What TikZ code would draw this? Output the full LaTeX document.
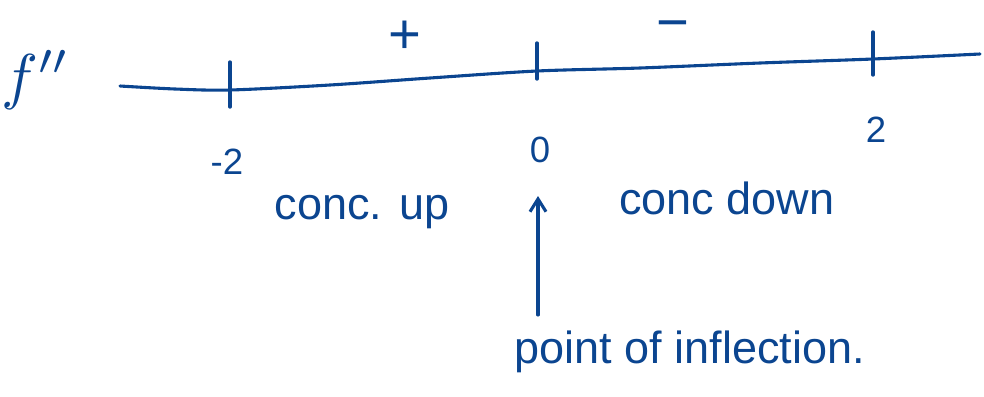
\documentclass[tikz,border=0pt]{standalone}
\usepackage{fontspec}
\setmainfont{Liberation Sans}
\usepackage{tikz}
\usepackage{xcolor}
\usetikzlibrary{arrows.meta,positioning}
\definecolor{ink}{HTML}{0B4590}
\tikzset{
  pen/.style={draw=ink, line width=2.2pt, line cap=round, line join=round},
  ticky/.style={draw=ink, line width=2.4pt, line cap=round},
  script/.style={text=ink, inner sep=0pt, font=\fontsize{32}{36}\selectfont},
  numlabel/.style={text=ink, inner sep=0pt, font=\fontsize{26}{30}\selectfont},
  signlabel/.style={text=ink, inner sep=0pt, text height=0.6em, text depth=0pt,
                    font=\fontsize{40}{44}\selectfont},
  arrow/.style={-{Straight Barb[length=3.2mm,width=4mm]}, draw=ink, line width=2.2pt, line cap=round}
}
\begin{document}
\begin{tikzpicture}[x=0.025cm,y=-0.025cm]
        \useasboundingbox (0,0) rectangle (984,396);
        % the number line for f''
        \node[text=ink, inner sep=0pt, scale=4.4] (fpp) at (36,80) {$f''$};
        \draw[pen] plot[smooth] coordinates {(120,86) (175,89) (230,90) (330,85) (430,78) (537,71) (640,68) (760,63) (873,59) (980,54)};
        \draw[ticky] (230,62) -- (230,107);
        \draw[ticky] (537,43) -- (537,79);
        \draw[ticky] (873,32) -- (873,75);
        % signs
        \node[signlabel] (plus) at (405,49) {+};
        \node[signlabel] (minus) at (673,37) {−};
        % values
        \node[numlabel] (mtwo) at (227,162) {-2};
        \node[numlabel] (zero) at (540,150) {0};
        \node[numlabel] (two) at (876,130) {2};
        % concavity
        \node[script] (up) at (362,212) {conc. up};
        \node[script] (down) at (727,198) {conc down};
        \node[script] (poi) at (690,352) {point of inflection.};
        \coordinate (tail) at (538,315);
        \coordinate (tip) at (538,196);
        \draw[arrow] (tail) -- (tip);
      \end{tikzpicture}
\end{document}
